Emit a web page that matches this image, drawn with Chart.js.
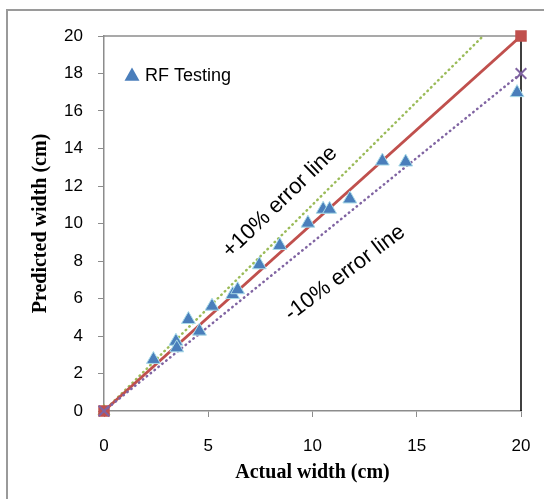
<!DOCTYPE html>
<html lang="en">
<head>
  <meta charset="UTF-8">
  <title>RF Testing - predicted vs actual width</title>
  <style>
    body { margin: 0; background: #fff; }
    canvas { display: block; }
  </style>
</head>
<body>
  <canvas id="grafico" width="544" height="499"></canvas>
  <script src="https://cdn.jsdelivr.net/npm/chart.js"></script>
  <script>
    // RF test samples (cm)
    const actualWidth    = [2.37, 3.45, 3.49, 4.05, 4.58, 5.18, 6.17, 6.41, 7.45, 8.43, 9.78, 10.51, 10.82, 11.79, 13.35, 14.47, 19.81];
    const predictedWidth = [2.75, 3.72, 3.37, 4.88, 4.26, 5.59, 6.21, 6.47, 7.80, 8.83, 10.02, 10.76, 10.76, 11.31, 13.33, 13.28, 16.98];

    // reference lines: exact, +10% and -10%
    const idealX = [0, 20];
    const idealY = [0, 20];
    const plusTenX = [0, 20];
    const plusTenY = [0, 22];
    const minusTenX = [0, 20];
    const minusTenY = [0, 18];

    const xTickStep = 5;
    const yTickStep = 2;

    const pares = (xs, ys) => xs.map((x, i) => ({ x: x, y: ys[i] }));

    const cinza = '#8c8c8c';
    const fonteEixo = { family: "'Liberation Sans', Arial, sans-serif", size: 17 };
    const fonteTitulo = { family: "'Liberation Serif', 'Times New Roman', serif", size: 20, weight: 'bold' };

    const decoracao = {
      id: 'decoracao',
      beforeDraw(chart) {
        const ctx = chart.ctx;
        ctx.save();
        ctx.strokeStyle = '#9a9a9a';
        ctx.lineWidth = 2;
        ctx.beginPath();
        ctx.moveTo(7, 499);
        ctx.lineTo(7, 10);
        ctx.lineTo(544, 10);
        ctx.stroke();
        ctx.restore();
      },
      beforeDatasetsDraw(chart) {
        const { ctx, chartArea: a } = chart;
        ctx.save();
        ctx.lineWidth = 1.5;
        ctx.strokeStyle = cinza;
        ctx.beginPath();
        ctx.moveTo(a.left, a.top);
        ctx.lineTo(a.right, a.top);
        ctx.stroke();
        ctx.strokeStyle = '#000';
        ctx.beginPath();
        ctx.moveTo(a.right, a.top);
        ctx.lineTo(a.right, a.bottom);
        ctx.stroke();
        ctx.restore();
      },
      afterDatasetsDraw(chart) {
        const ctx = chart.ctx;
        ctx.save();
        ctx.fillStyle = '#000';
        ctx.font = "22px 'Liberation Sans', Arial, sans-serif";
        ctx.textAlign = 'center';
        ctx.textBaseline = 'middle';

        ctx.save();
        ctx.translate(280, 202);
        ctx.rotate(-44 * Math.PI / 180);
        ctx.fillText('+10% error line', 0, 0);
        ctx.restore();

        ctx.save();
        ctx.translate(345, 273);
        ctx.rotate(-37 * Math.PI / 180);
        ctx.fillText('-10% error line', 0, 0);
        ctx.restore();

        // legend entry
        const tx = 132, ty = 75, r = 7.5;
        ctx.fillStyle = '#4a7ebb';
        ctx.beginPath();
        ctx.moveTo(tx, ty - r);
        ctx.lineTo(tx + r, ty + r * 0.75);
        ctx.lineTo(tx - r, ty + r * 0.75);
        ctx.closePath();
        ctx.fill();
        ctx.fillStyle = '#000';
        ctx.font = "18px 'Liberation Sans', Arial, sans-serif";
        ctx.textAlign = 'left';
        ctx.fillText('RF Testing', 145, 76);
        ctx.restore();
      }
    };

    new Chart(document.getElementById('grafico'), {
      type: 'scatter',
      data: {
        datasets: [
          {
            label: 'RF Testing',
            data: pares(actualWidth, predictedWidth),
            pointStyle: 'triangle',
            pointRadius: 8,
            backgroundColor: '#4a7ebb',
            borderColor: '#a9dbe8',
            borderWidth: 1,
            clip: false,
            order: 0
          },
          {
            label: 'Exact',
            data: pares(idealX, idealY),
            showLine: true,
            borderColor: '#c0504d',
            borderWidth: 3,
            pointStyle: 'rect',
            pointRadius: 6,
            backgroundColor: '#c0504d',
            clip: false,
            order: 2
          },
          {
            label: '+10%',
            data: pares(plusTenX, plusTenY),
            showLine: true,
            borderColor: '#9bbb59',
            borderWidth: 2.5,
            borderDash: [0.5, 4.5],
            borderCapStyle: 'round',
            pointStyle: 'triangle',
            pointRadius: [5, 0],
            backgroundColor: '#9bbb59',
            clip: { left: 10, bottom: 10, top: 0, right: 0 },
            order: 3
          },
          {
            label: '-10%',
            data: pares(minusTenX, minusTenY),
            showLine: true,
            borderColor: '#8064a2',
            borderWidth: 2.5,
            borderDash: [0.5, 4.5],
            borderCapStyle: 'round',
            pointStyle: 'crossRot',
            pointRadius: 7.5,
            pointBorderWidth: 2,
            clip: false,
            order: 1
          }
        ]
      },
      options: {
        responsive: false,
        animation: false,
        layout: { padding: { top: 36, right: 23 } },
        plugins: { legend: { display: false }, tooltip: { enabled: false } },
        scales: {
          x: {
            type: 'linear',
            min: 0, max: 20,
            ticks: { stepSize: xTickStep, color: '#000', font: { ...fonteEixo, lineHeight: 1.9 }, padding: 13 },
            grid: { drawOnChartArea: false, color: cinza, tickLength: 6 },
            border: { color: cinza, width: 1.5 },
            title: { display: true, text: 'Actual width (cm)', color: '#000', font: fonteTitulo, padding: { top: 0, bottom: 14 } },
            afterFit(scale) { scale.height = 88; }
          },
          y: {
            type: 'linear',
            min: 0, max: 20,
            ticks: { stepSize: yTickStep, color: '#000', font: fonteEixo, padding: 15 },
            grid: { drawOnChartArea: false, color: cinza, tickLength: 6 },
            border: { color: cinza, width: 1.5 },
            title: { display: true, text: 'Predicted width (cm)', color: '#000', font: fonteTitulo, padding: { top: 29, bottom: 0 } },
            afterFit(scale) { scale.width = 104; }
          }
        }
      },
      plugins: [decoracao]
    });
  </script>
</body>
</html>
